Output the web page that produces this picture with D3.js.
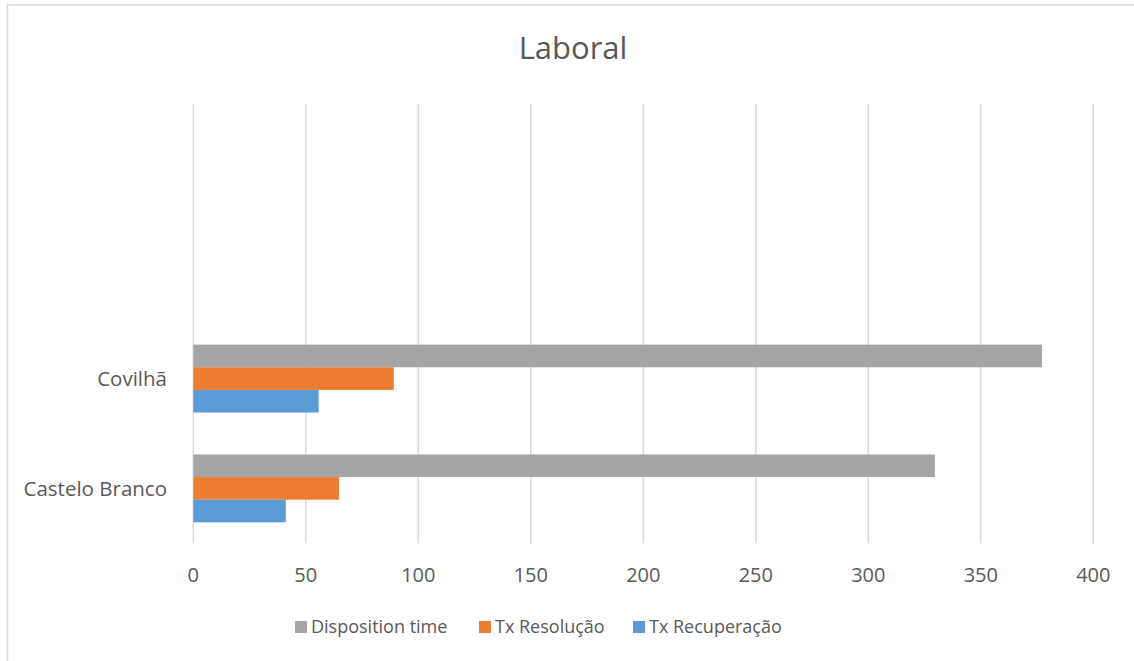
<!DOCTYPE html>
<html lang="pt">
<head>
  <meta charset="utf-8">
  <script src="https://cdn.jsdelivr.net/npm/d3@7"></script>
  <style>
    body{margin:0;background:#fff;}
    text{font-family:"Open Sans",sans-serif;fill:#595959;}
  </style>
</head>
<body>
  <div id="chart"></div>
  <script>
    // data
    var categories=["Castelo Branco","Covilhã","",""];
    var seriesNames=["Disposition time","Tx Resolução","Tx Recuperação"];
    var seriesColors=["#A5A5A5","#ED7D31","#5B9BD5"];
    var dispositionTime=[329.6,377.2,null,null];
    var txResolucao=[64.8,89.1,null,null];
    var txRecuperacao=[41.1,55.7,null,null];
    var xTicks=[0,50,100,150,200,250,300,350,400];

    var seriesValues=[dispositionTime,txResolucao,txRecuperacao];

    var width=1134, height=661;

    var svg=d3.select("#chart")
      .append("svg")
      .attr("width",width)
      .attr("height",height);

    // chart border (runs off the right and bottom)
    svg.append("rect")
      .attr("x",7.5).attr("y",5)
      .attr("width",1200).attr("height",700)
      .attr("fill","none")
      .attr("stroke","#D9D9D9")
      .attr("stroke-width",1.5);

    svg.append("text")
      .attr("x",573).attr("y",59)
      .attr("text-anchor","middle")
      .style("font-size","31px")
      .text("Laboral");

    var x=d3.scaleLinear().domain([0,400]).range([193.3,1093.3]);

    var y=d3.scaleBand()
      .domain(d3.range(categories.length))
      .range([543.3,104])
      .paddingInner(0.382)
      .paddingOuter(0.191);

    var ySeries=d3.scaleBand()
      .domain(seriesNames)
      .range([0,y.bandwidth()]);

    // gridlines
    svg.append("g")
      .selectAll("line")
      .data(xTicks)
      .enter()
      .append("line")
      .attr("x1",d=>x(d)).attr("x2",d=>x(d))
      .attr("y1",104).attr("y2",543.3)
      .attr("stroke","#D9D9D9")
      .attr("stroke-width",1.5);

    // tick labels
    svg.append("g")
      .selectAll("text")
      .data(xTicks)
      .enter()
      .append("text")
      .attr("x",d=>x(d))
      .attr("y",582)
      .attr("text-anchor","middle")
      .style("font-size","20px")
      .text(d=>d);

    // category labels
    svg.append("g")
      .selectAll("text")
      .data(categories)
      .enter()
      .append("text")
      .attr("x",167)
      .attr("y",(d,i)=>y(i)+y.bandwidth()/2)
      .attr("dy","0.36em")
      .attr("text-anchor","end")
      .style("font-size","20.5px")
      .text(d=>d);

    // bars
    seriesNames.forEach(function(name,s){
      svg.append("g")
        .selectAll("rect")
        .data(seriesValues[s].map((v,i)=>({i:i,v:v})).filter(d=>d.v!=null))
        .enter()
        .append("rect")
        .attr("x",x(0))
        .attr("y",d=>y(d.i)+ySeries(name))
        .attr("width",d=>x(d.v)-x(0))
        .attr("height",ySeries.bandwidth())
        .attr("fill",seriesColors[s]);
    });

    // legend
    var legendX=[295,479,633];
    var legend=svg.append("g")
      .selectAll("g")
      .data(seriesNames)
      .enter()
      .append("g")
      .attr("transform",(d,i)=>"translate("+legendX[i]+",627)");
    legend.append("rect")
      .attr("x",0).attr("y",-6)
      .attr("width",12).attr("height",12)
      .attr("fill",(d,i)=>seriesColors[i]);
    legend.append("text")
      .attr("x",16).attr("y",0)
      .attr("dy","0.36em")
      .style("font-size","18px")
      .text(d=>d);
  </script>
</body>
</html>
